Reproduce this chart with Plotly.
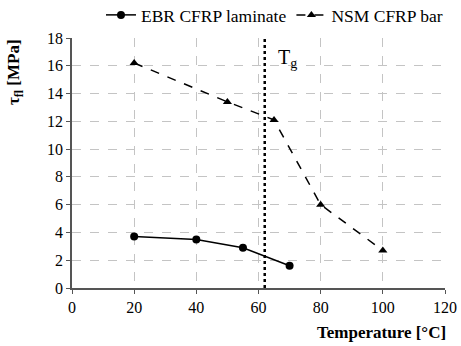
import plotly.graph_objects as go

ebr_x = [20, 40, 55, 70]
ebr_y = [3.7, 3.5, 2.9, 1.6]
nsm_x = [20, 50, 65, 80, 100]
nsm_y = [16.2, 13.4, 12.1, 6.0, 2.7]
tg_x = 62

font = "Liberation Serif"

fig = go.Figure()
fig.add_trace(go.Scatter(x=ebr_x, y=ebr_y, mode="lines+markers", name="EBR CFRP laminate",
                         line=dict(color="black", width=1.5),
                         marker=dict(symbol="circle", size=8, color="black")))
fig.add_trace(go.Scatter(x=nsm_x, y=nsm_y, mode="lines+markers", name="NSM CFRP bar",
                         line=dict(color="black", width=1.5, dash="dash"),
                         marker=dict(symbol="triangle-up", size=8, color="black")))
fig.add_shape(type="line", x0=tg_x, x1=tg_x, y0=0, y1=18, xref="x", yref="y",
              line=dict(color="black", width=2.5, dash="dot"))
fig.add_annotation(x=tg_x + 3.5, y=17.6, xref="x", yref="y", text="T<sub>g</sub>",
                   showarrow=False, xanchor="left", yanchor="top",
                   font=dict(family=font, size=20, color="black"))
fig.add_annotation(x=1, y=-0.13, xref="paper", yref="paper", text="<b>Temperature [°C]</b>",
                   showarrow=False, xanchor="right", yanchor="top", xshift=3,
                   font=dict(family=font, size=17, color="black"))
fig.add_annotation(x=0, y=0.864, xref="paper", yref="paper", text="<b>τ<sub>fl</sub> [MPa]</b>",
                   showarrow=False, xanchor="center", yanchor="middle", textangle=-90, xshift=-57,
                   font=dict(family=font, size=17, color="black"))

fig.update_layout(
    width=461, height=346,
    margin=dict(l=72, r=16, t=38, b=58, autoexpand=False),
    paper_bgcolor="white", plot_bgcolor="white",
    font=dict(family=font, size=16, color="black"),
    showlegend=True,
    legend=dict(orientation="h", x=1.008, xanchor="right", y=1.092, yanchor="middle",
                font=dict(family=font, size=17.5), itemwidth=30, bgcolor="rgba(0,0,0,0)",
                tracegroupgap=0),
    xaxis=dict(range=[0, 120], dtick=20, showgrid=True, gridcolor="#c4c4c4", griddash="dash",
               gridwidth=1, showline=True, linecolor="#555555", linewidth=1.5,
               ticks="outside", ticklen=4, tickcolor="#555555", zeroline=False,
               tickfont=dict(family=font, size=16, color="black")),
    yaxis=dict(range=[0, 18], dtick=2, showgrid=True, gridcolor="#c4c4c4", griddash="dash",
               gridwidth=1, showline=True, linecolor="#555555", linewidth=1.5,
               ticks="outside", ticklen=4, tickcolor="#555555", zeroline=False,
               tickfont=dict(family=font, size=16, color="black")),
)
fig.write_html("out.html")
